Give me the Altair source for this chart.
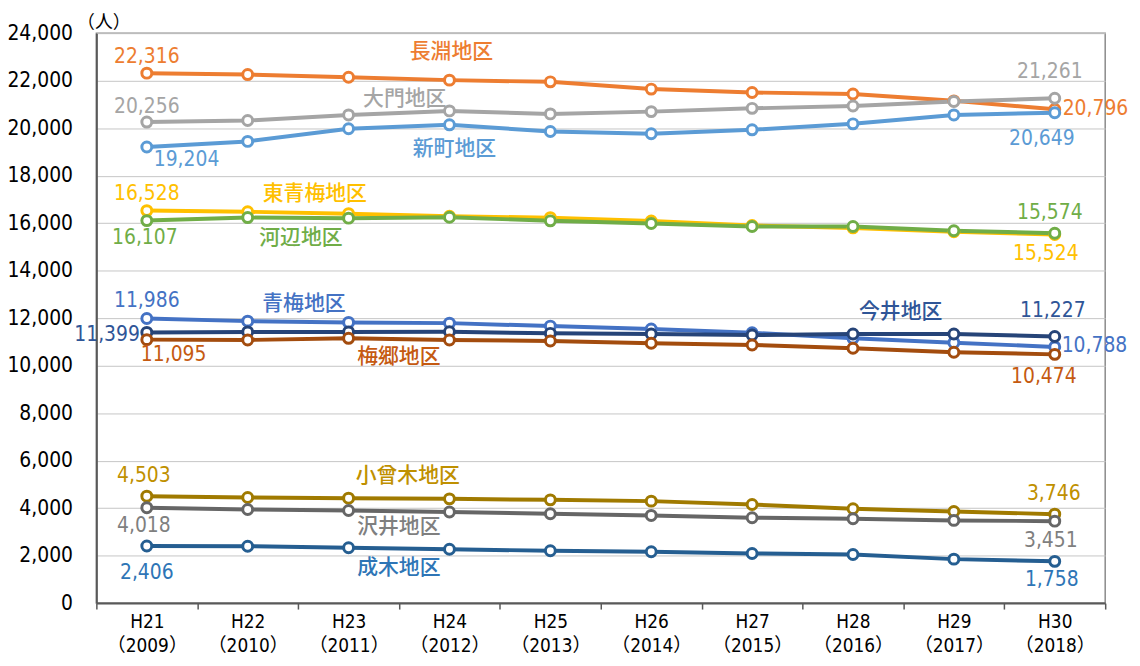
import altair as alt
import pandas as pd

FONT = "Noto Sans CJK JP"
NUMFONT = "Liberation Sans Narrow, DejaVu Sans Condensed, Noto Sans CJK JP"

years = ["H21|（2009）", "H22|（2010）", "H23|（2011）", "H24|（2012）", "H25|（2013）",
         "H26|（2014）", "H27|（2015）", "H28|（2016）", "H29|（2017）", "H30|（2018）"]

series_names = ["長淵地区", "大門地区", "新町地区", "東青梅地区", "河辺地区", "青梅地区",
                "今井地区", "梅郷地区", "小曾木地区", "沢井地区", "成木地区"]

nagabuchi = [22316, 22256, 22146, 22022, 21950, 21645, 21503, 21436, 21150, 20796]
daimon = [20256, 20320, 20557, 20726, 20600, 20696, 20834, 20933, 21120, 21261]
shinmachi = [19204, 19442, 19973, 20140, 19860, 19763, 19930, 20182, 20557, 20649]
higashiome = [16528, 16480, 16400, 16290, 16230, 16090, 15900, 15800, 15640, 15524]
kabe = [16107, 16235, 16210, 16250, 16097, 15985, 15859, 15859, 15679, 15574]
ome = [11986, 11874, 11819, 11790, 11665, 11540, 11385, 11150, 10967, 10788]
imai = [11399, 11420, 11420, 11427, 11360, 11330, 11289, 11330, 11330, 11227]
umesato = [11095, 11080, 11150, 11080, 11038, 10941, 10871, 10732, 10565, 10474]
osogi = [4503, 4445, 4419, 4390, 4348, 4294, 4152, 3972, 3859, 3746]
sawai = [4018, 3943, 3901, 3834, 3763, 3692, 3596, 3554, 3483, 3451]
nariki = [2406, 2396, 2329, 2270, 2203, 2161, 2090, 2049, 1852, 1758]

series_values = [nagabuchi, daimon, shinmachi, higashiome, kabe, ome, imai, umesato,
                 osogi, sawai, nariki]

line_colors = ["#ED7D31", "#A5A5A5", "#5B9BD5", "#FFC000", "#70AD47", "#4472C4",
               "#264478", "#A34C0E", "#A07A00", "#666666", "#255E91"]
text_colors = ["#ED7D31", "#A5A5A5", "#5B9BD5", "#FFC000", "#70AD47", "#4472C4",
               "#2F5597", "#C55A11", "#BF9000", "#7F7F7F", "#2E75B6"]

# label offsets (style): first value, last value, name label (anchor year index, dx, dy)
first_off = [(0, -16), (0, -15), (40, 13), (0, -17), (-2, 18), (0, -18),
             (-40, 3), (27, 16), (-3, -20), (-3, 18), (0, 27)]
last_off = [(41, 0), (-5, -26), (-13, 26), (-9, 20), (-5, -20), (40, -1),
            (-2, -26), (-11, 23), (-1, -20), (-4, 20), (-3, 19)]
name_off = [(3, 2, -28), (3, -45, -12), (3, 5, 24), (2, -34, -20), (2, -48, 20),
            (2, -45, -19), (7, 48, -22), (3, -51, 17), (3, -42, -23), (3, -51, 15),
            (3, -51, 19)]

rows = []
for name, vals in zip(series_names, series_values):
    for yr, v in zip(years, vals):
        rows.append({"year": yr, "series": name, "pop": v})
df = pd.DataFrame(rows)

color_scale = alt.Scale(domain=series_names, range=line_colors)

x_enc = alt.X(
    "year:N", sort=years, bandPosition=0.5,
    scale=alt.Scale(type="band", paddingInner=0, paddingOuter=0),
    axis=alt.Axis(
        title=None, labelExpr="split(datum.label, '|')", tickBand="extent",
        grid=False, domainColor="#595959", domainWidth=2, ticks=True,
        tickColor="#595959", tickSize=6, tickWidth=1.5, labelAngle=0,
        labelFontSize=19, labelLineHeight=24, labelPadding=4, labelFont=NUMFONT,
        labelColor="#000000", labelBaseline="top",
    ),
)
y_enc = alt.Y(
    "pop:Q",
    scale=alt.Scale(domain=[0, 24000], nice=False),
    axis=alt.Axis(
        values=list(range(0, 24001, 2000)), labelExpr="format(datum.value, ',d')",
        grid=True, gridColor="#c6c6c6", gridWidth=1, ticks=False,
        domainColor="#595959", domainWidth=2, labelFontSize=21, labelPadding=24,
        labelFont=NUMFONT, labelColor="#000000", title="（人）", titleAngle=0,
        titleX=7, titleY=-11, titleAlign="center", titleBaseline="middle",
        titleFontSize=18, titleFontWeight="normal", titleFont=FONT,
        titleColor="#000000",
    ),
)

lines = alt.Chart(df).mark_line(strokeWidth=4).encode(
    x=x_enc, y=y_enc,
    color=alt.Color("series:N", scale=color_scale, legend=None),
)
points = alt.Chart(df).mark_point(
    shape="circle", filled=True, fill="white", size=100, strokeWidth=3, opacity=1
).encode(
    x=x_enc, y=y_enc,
    stroke=alt.Stroke("series:N", scale=color_scale, legend=None),
)

layers = [lines, points]
for i, (name, vals) in enumerate(zip(series_names, series_values)):
    for idx, (dx, dy) in ((0, first_off[i]), (len(years) - 1, last_off[i])):
        d = pd.DataFrame({"year": [years[idx]], "pop": [vals[idx]],
                          "label": [f"{vals[idx]:,}"]})
        layers.append(
            alt.Chart(d).mark_text(
                font=NUMFONT, fontSize=21, fontWeight="normal", color=text_colors[i],
                dx=dx, dy=dy, align="center", baseline="middle",
            ).encode(x=x_enc, y=y_enc, text="label:N")
        )
    ai, ndx, ndy = name_off[i]
    d = pd.DataFrame({"year": [years[ai]], "pop": [vals[ai]], "label": [name]})
    layers.append(
        alt.Chart(d).mark_text(
            font=FONT, fontSize=21, fontWeight=500, color=text_colors[i],
            dx=ndx, dy=ndy, align="center", baseline="middle",
        ).encode(x=x_enc, y=y_enc, text="label:N")
    )

chart = alt.layer(*layers).properties(
    width=1016, height=574,
    autosize=alt.AutoSizeParams(type="none"),
    padding={"left": 89, "top": 23, "right": 27, "bottom": 61},
    background="white",
).configure_view(stroke="#8a8a8a", strokeWidth=1.5)

chart.save("out.html", embed_options={"renderer": "svg", "actions": False})
